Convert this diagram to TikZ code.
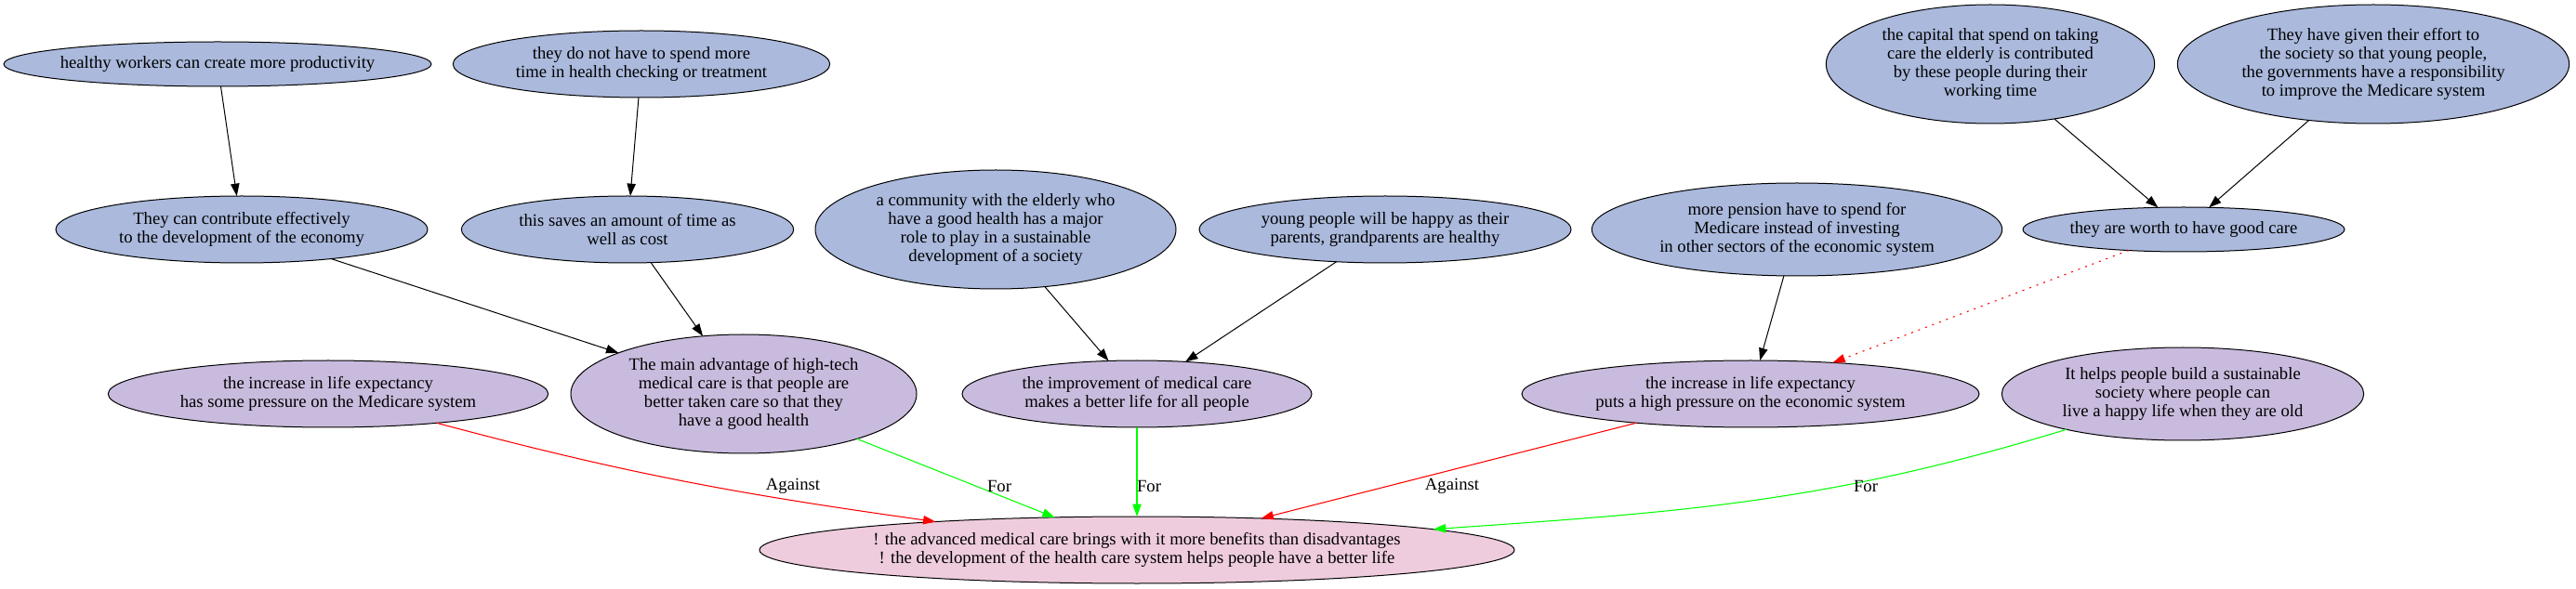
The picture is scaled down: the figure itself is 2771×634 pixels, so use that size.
\documentclass[tikz,border=0pt]{standalone}
\usepackage{fontspec}
\setmainfont{Liberation Serif}
\usetikzlibrary{shapes.geometric,arrows.meta}
\definecolor{argblue}{HTML}{AAB9DC}
\definecolor{argpurple}{HTML}{C9BBDD}
\definecolor{argpink}{HTML}{EECCDD}
\begin{document}
\begin{tikzpicture}[x=0.75pt,y=-0.75pt,>={Triangle[length=10pt,width=7pt]}]
\tikzstyle{every node} = [font=\fontsize{14}{15}\selectfont,align=center,inner sep=0,outer sep=0];
\tikzstyle{arg} = [ellipse,draw,line width=0.75pt];
\tikzstyle{sub} = [arg,fill=argblue];
\tikzstyle{main} = [arg,fill=argpurple];
\tikzstyle{sup} = [->,line width=0.75pt];
\tikzstyle{pro} = [->,line width=0.8pt,color=green];
\tikzstyle{con} = [->,line width=0.8pt,color=red];
\useasboundingbox (0,0) rectangle (2771,634);
% top row
\node[sub,inner xsep=-5pt,minimum width=345pt,minimum height=36pt] (hw) at (234,69) {healthy workers can create more productivity};
\node[sub,minimum width=304pt,minimum height=54pt] (spend) at (690,69) {they do not have to spend more\\time in health checking or treatment};
\node[sub,minimum width=265pt,minimum height=96pt] (capital) at (2141,69) {the capital that spend on taking\\care the elderly is contributed\\by these people during their\\working time};
\node[sub,minimum width=316pt,minimum height=96pt] (effort) at (2553,69) {They have given their effort to\\the society so that young people,\\the governments have a responsibility\\to improve the Medicare system};
% second row
\node[sub,minimum width=300pt,minimum height=54pt] (econ) at (260,247) {They can contribute effectively\\to the development of the economy};
\node[sub,minimum width=268pt,minimum height=54pt] (saves) at (675,247) {this saves an amount of time as\\well as cost};
\node[sub,minimum width=291pt,minimum height=96pt] (community) at (1071,247) {a community with the elderly who\\have a good health has a major\\role to play in a sustainable\\development of a society};
\node[sub,minimum width=300pt,minimum height=54pt] (young) at (1490,247) {young people will be happy as their\\parents, grandparents are healthy};
\node[sub,minimum width=331pt,minimum height=75pt] (pension) at (1933,247) {more pension have to spend for\\Medicare instead of investing\\in other sectors of the economic system};
\node[sub,minimum width=255pt,minimum height=36pt] (worth) at (2349,247) {they are worth to have good care};
% arguments
\node[main,minimum width=355pt,minimum height=54pt] (medicare) at (353,424) {the increase in life expectancy\\has some pressure on the Medicare system};
\node[main,minimum width=279pt,minimum height=96pt] (advantage) at (800,424) {The main advantage of high-tech\\medical care is that people are\\better taken care so that they\\have a good health};
\node[main,minimum width=282pt,minimum height=54pt] (improve) at (1223,424) {the improvement of medical care\\makes a better life for all people};
\node[main,minimum width=369pt,minimum height=54pt] (economy) at (1883,424) {the increase in life expectancy\\puts a high pressure on the economic system};
\node[main,minimum width=292pt,minimum height=75pt] (society) at (2348,424) {It helps people build a sustainable\\society where people can\\live a happy life when they are old};
% claim
\node[arg,fill=argpink,minimum width=609pt,minimum height=54pt] (claim) at (1223,592) {! the advanced medical care brings with it more benefits than disadvantages\\! the development of the health care system helps people have a better life};
\foreach \a/\b in {hw/econ, spend/saves, capital/worth, effort/worth, econ/advantage, saves/advantage, community/improve, young/improve, pension/economy}{
	\path (\a) edge [sup] (\b);
}
\path (worth) edge [con,dash pattern=on 1.5pt off 4.5pt] (economy);
\path (medicare) edge [con,out=-15,in=172] (claim);
\path (economy) edge [con] (claim);
\foreach \a in {advantage, improve}{
	\path (\a) edge [pro] (claim);
}
\path (society) edge [pro,out=197,in=4] (claim);
% edge labels
\node (against1) at (853,523) {Against};
\node (for1) at (1075,523) {For};
\node (for2) at (1236,523) {For};
\node (against2) at (1562,523) {Against};
\node (for3) at (2007,523) {For};
\end{tikzpicture}
\end{document}
